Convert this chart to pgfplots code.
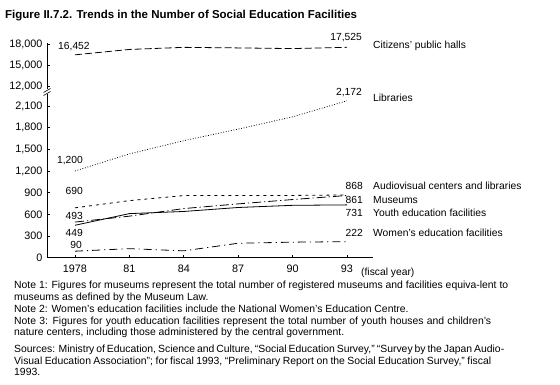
\documentclass[border=0pt]{standalone}
\usepackage{fontspec}
\setmainfont{Liberation Sans}
\usepackage{pgfplots}
\pgfplotsset{compat=1.18}
\pgfplotstableread{
year halls lib av mus youth women
1978 16452 1200 690 493 449 90
1981 17222 1437 790 575 610 125
1984 17520 1620 860 680 640 95
1987 17440 1780 860 745 695 200
1990 17347 1950 862 805 725 215
1993 17525 2172 868 861 731 222
}\data
\newcommand\fullline[1]{\makebox[477pt][s]{#1}\\}
\begin{document}
\begin{tikzpicture}[x=1pt,y=1pt]
\path[fill=white] (0,0) rectangle (560,385);
\pgfplotsset{common/.style={scale only axis, width=326pt, xmin=1976.456, xmax=1994.434, clip=false,
  axis line style={-, line width=0.6pt}, tick style={black, line width=0.6pt},
  major tick length=3pt, tick align=inside, scaled y ticks=false,
  ticklabel style={font=\fontsize{10.8}{12}\selectfont},
  yticklabel style={xshift=-1pt},
  xticklabel style={yshift=-4pt},
  every axis plot/.append style={black, line width=0.8pt}}}
\begin{axis}[common, at={(47pt,127.3pt)}, anchor=south west, height=163.7pt, ymin=0, ymax=2266,
  axis x line*=bottom, axis y line*=left,
  xtick={1978,1981,...,1993}, xticklabels={1978,81,84,87,90,93},
  ytick={0,300,...,2100}, yticklabels={0,300,600,900,{1,200},{1,500},{1,800},{2,100}}]
\addplot[dash pattern=on 0.8pt off 1.8pt] table[x=year,y=lib]{\data};
\addplot[dash pattern=on 3pt off 4pt] table[x=year,y=av]{\data};
\addplot[dash pattern=on 9pt off 3pt on 1.2pt off 3pt] table[x=year,y=mus]{\data};
\addplot[solid] table[x=year,y=youth]{\data};
\addplot[dash pattern=on 8pt off 4pt on 1.2pt off 4pt] table[x=year,y=women]{\data};
\end{axis}
\begin{axis}[common, at={(47pt,296pt)}, anchor=south west, height=46pt, ymin=11571, ymax=18143,
  axis x line=none, axis y line*=left,
  ytick={12000,15000,18000}, yticklabels={{12,000},{15,000},{18,000}}]
\addplot[dash pattern=on 7pt off 3pt] table[x=year,y=halls]{\data};
\end{axis}
\draw[line width=0.6pt] (43.5,289.5)--(50.5,293.5) (43.5,292.5)--(50.5,296.5);
\begin{scope}[every node/.style={inner sep=0pt, font=\fontsize{10.3}{12}\selectfont}]
\node[anchor=west,font=\bfseries\fontsize{11.5}{13}\selectfont] at (5,369) {Figure II.7.2. Trends in the Number of Social Education Facilities};
\node[anchor=west] at (58,338) {16,452};
\node[anchor=east] at (362,347) {17,525};
\node[anchor=west] at (373,339) {Citizens’ public halls};
\node[anchor=east] at (362,292) {2,172};
\node[anchor=west] at (373,287) {Libraries};
\node[anchor=east] at (83,224) {1,200};
\node[anchor=east] at (83,194) {690};
\node[anchor=east] at (83,169) {493};
\node[anchor=east] at (83,152) {449};
\node[anchor=east] at (82,140) {90};
\node[anchor=east] at (363,199) {868};
\node[anchor=east] at (363,185) {861};
\node[anchor=east] at (363,172) {731};
\node[anchor=east] at (363,152) {222};
\node[anchor=west] at (373,199) {Audiovisual centers and libraries};
\node[anchor=west] at (373,185) {Museums};
\node[anchor=west] at (373,172) {Youth education facilities};
\node[anchor=west] at (373,152) {Women’s education facilities};
\node[anchor=west] at (361,112) {(fiscal year)};
\node[anchor=north west] at (14,104) {\parbox[t]{477pt}{\fontsize{10.4}{11.8}\selectfont
\mbox{Note 1: Figures for museums represent the total number of registered museums and facilities equiva-lent to}\\
museums as defined by the Museum Law.\\
Note 2: Women’s education facilities include the National Women’s Education Centre.\\
\fullline{Note 3: Figures for youth education facilities represent the total number of youth houses and children’s}
nature centers, including those administered by the central government.\par
\vspace{4.5pt}
\fullline{Sources: Ministry of Education, Science and Culture, “Social Education Survey,” “Survey by the Japan Audio-}
\fullline{Visual Education Association”; for fiscal 1993, “Preliminary Report on the Social Education Survey,” fiscal}
1993.}};
\end{scope}
\end{tikzpicture}
\end{document}
